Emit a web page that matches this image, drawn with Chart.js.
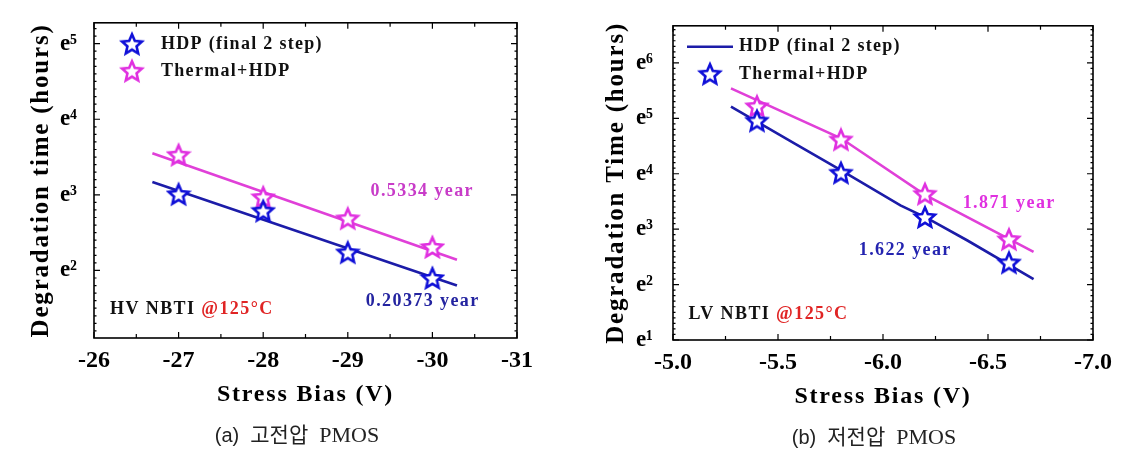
<!DOCTYPE html>
<html>
<head>
<meta charset="utf-8">
<script src="https://cdn.jsdelivr.net/npm/chart.js@4.4.0/dist/chart.umd.min.js"></script>
<style>
  body { margin: 0; background: #fff; width: 1141px; height: 451px; position: relative; overflow: hidden; }
  canvas { position: absolute; top: 0; }
  .cap { position: absolute; font-size: 22px; color: #222; white-space: pre; transform: translate(-50%, -50%);
         font-family: "Liberation Serif", "Noto Sans CJK KR"; }
  .cap .ko { font-family: "Noto Sans CJK KR"; font-size: 21px; }
  .cap .p { font-family: "Liberation Sans", sans-serif; font-size: 20px; }
</style>
</head>
<body>
<canvas id="hv" width="570" height="451" style="left:0"></canvas>
<canvas id="lv" width="571" height="451" style="left:570px"></canvas>
<div class="cap" style="left:297px;top:433px"><span class="p">(a)</span>  <span class="ko">고전압</span>  PMOS</div>
<div class="cap" style="left:874px;top:435px"><span class="p">(b)</span>  <span class="ko">저전압</span>  PMOS</div>
<script>
// ---- data (y values are exponents of e) ----
const hvBias = [-27, -28, -29, -30];
const hvHdp = [3.01, 2.79, 2.24, 1.90];
const hvThermal = [3.53, 2.97, 2.69, 2.31];
const hvFitBias = [-26.69, -30.29];
const hvHdpFit = [3.17, 1.80];
const hvThermalFit = [3.55, 2.14];
const hvExp = [2, 3, 4, 5];

const lvBias = [-5.4, -5.8, -6.2, -6.6];
const lvHdp = [4.96, 4.02, 3.22, 2.40];
const lvThermal = [5.22, 4.62, 3.64, 2.82];
const lvHdpFitBias = [-5.276, -5.582, -5.797, -6.083, -6.21, -6.40, -6.717];
const lvHdpFit = [5.21, 4.54, 4.07, 3.43, 3.20, 2.80, 2.10];
const lvThermalFitBias = [-5.276, -5.8, -6.2, -6.717];
const lvThermalFit = [5.54, 4.64, 3.62, 2.59];
const lvExp = [1, 2, 3, 4, 5, 6];

const BLUE = '#1010d8', NAVY = '#1c1ca8', MAG = '#e030e0', MAGLINE = '#e040d8';
const SERIF = '"Liberation Serif", "DejaVu Serif", serif';
const sup = { 1: '\u00b9', 2: '\u00b2', 3: '\u00b3', 4: '\u2074', 5: '\u2075', 6: '\u2076' };

const pts = (xs, ys) => xs.map((x, i) => ({ x, y: ys[i] }));

function starImage(color) {
  const c = document.createElement('canvas');
  c.width = 26; c.height = 26;
  const g = c.getContext('2d');
  g.translate(13, 14);
  g.beginPath();
  for (let i = 0; i < 10; i++) {
    const r = i % 2 ? 4.8 : 10.5;
    const a = -Math.PI / 2 + i * Math.PI / 5;
    g.lineTo(r * Math.cos(a), r * Math.sin(a));
  }
  g.closePath();
  g.fillStyle = '#fff'; g.fill();
  g.lineWidth = 2.6; g.strokeStyle = color; g.stroke();
  return c;
}
const blueStar = starImage(BLUE), magStar = starImage(MAG);

// the original figure sets its axis titles with wide letter spacing
const spacing = {
  id: 'spacing',
  afterLayout(chart) {
    Object.values(chart.scales).forEach(s => {
      if (s._spaced) return;
      const drawTitle = s.drawTitle.bind(s);
      s.drawTitle = function () {
        this.ctx.save();
        this.ctx.letterSpacing = '1.8px';
        drawTitle();
        this.ctx.restore();
      };
      s._spaced = true;
    });
  }
};

// border box with inward ticks on all four sides
const frame = {
  id: 'frame',
  afterDatasetsDraw(chart, args, opts) {
    const { ctx, chartArea: a } = chart;
    const xs = chart.scales.x, ys = chart.scales.y;
    ctx.save();
    ctx.strokeStyle = '#000';
    ctx.lineWidth = 1.2;
    const xStep = opts.xStep;
    for (let v = xs.min; v <= xs.max + 1e-9; v += xStep / 2) {
      const major = Math.abs(Math.round(v / xStep) * xStep - v) < 1e-6;
      const len = major ? 6 : 4, px = xs.getPixelForValue(v);
      ctx.beginPath();
      ctx.moveTo(px, a.bottom); ctx.lineTo(px, a.bottom - len);
      ctx.moveTo(px, a.top); ctx.lineTo(px, a.top + len);
      ctx.stroke();
    }
    for (let k = Math.ceil(ys.min * 10); k <= Math.floor(ys.max * 10); k++) {
      const major = k % 10 === 0;
      const len = major ? 6 : 2.5, py = ys.getPixelForValue(k / 10);
      ctx.beginPath();
      ctx.moveTo(a.left, py); ctx.lineTo(a.left + len, py);
      ctx.moveTo(a.right, py); ctx.lineTo(a.right - len, py);
      ctx.stroke();
    }
    ctx.lineWidth = 1.6;
    ctx.strokeRect(a.left, a.top, a.right - a.left, a.bottom - a.top);
    ctx.restore();
  }
};

// legend inside the plot and text notes placed in data units
const notes = {
  id: 'notes',
  afterDraw(chart, args, opts) {
    const { ctx, chartArea: a } = chart;
    ctx.save();
    ctx.textBaseline = 'middle';
    opts.legend.forEach(it => {
      const x = a.left + it.dx, y = a.top + it.dy;
      if (it.type === 'star') {
        ctx.drawImage(it.img, x - 13, y - 14);
      } else {
        ctx.strokeStyle = it.color; ctx.lineWidth = 2.6;
        ctx.beginPath(); ctx.moveTo(x - 23, y); ctx.lineTo(x + 23, y); ctx.stroke();
      }
      ctx.fillStyle = '#111';
      ctx.font = 'bold 18px ' + SERIF;
      ctx.letterSpacing = '1.3px';
      ctx.textAlign = 'left';
      ctx.fillText(it.text, a.left + it.tx, y);
    });
    ctx.letterSpacing = '1.4px';
    opts.labels.forEach(it => {
      let x = chart.scales.x.getPixelForValue(it.x);
      const y = chart.scales.y.getPixelForValue(it.y);
      ctx.font = 'bold 18px ' + SERIF;
      const total = it.parts.reduce((s, p) => s + ctx.measureText(p[0]).width, 0);
      if (it.align === 'center') x -= total / 2;
      ctx.textAlign = 'left';
      it.parts.forEach(p => {
        ctx.fillStyle = p[1];
        ctx.fillText(p[0], x, y);
        x += ctx.measureText(p[0]).width;
      });
    });
    ctx.restore();
  }
};

function makeChart(id, cfg) {
  return new Chart(document.getElementById(id), {
    type: 'scatter',
    data: { datasets: cfg.datasets },
    plugins: [spacing, frame, notes],
    options: {
      responsive: false,
      animation: false,
      events: [],
      layout: { padding: { top: cfg.top, right: cfg.right, left: 0, bottom: 0 } },
      plugins: {
        legend: { display: false },
        tooltip: { enabled: false },
        frame: { xStep: cfg.xStep },
        notes: { legend: cfg.legend, labels: cfg.labels }
      },
      scales: {
        x: {
          type: 'linear', min: cfg.xMin, max: cfg.xMax, reverse: true,
          grid: { display: false }, border: { display: false },
          afterFit: s => { s.height = cfg.xHeight; },
          ticks: {
            stepSize: cfg.xStep, padding: 0, color: '#000',
            font: { family: SERIF, size: 24, weight: 'bold' },
            callback: v => cfg.xFmt(v)
          },
          title: {
            display: true, text: 'Stress Bias (V)', color: '#000',
            font: { family: SERIF, size: 24, weight: 'bold' },
            padding: { top: 0, bottom: cfg.xTitlePad }
          }
        },
        y: {
          type: 'linear', min: cfg.yMin, max: cfg.yMax,
          grid: { display: false }, border: { display: false },
          afterFit: s => { s.width = cfg.yWidth; },
          afterBuildTicks: s => { s.ticks = cfg.yTicks.map(v => ({ value: v })); },
          ticks: {
            padding: cfg.yTickPad, color: '#000',
            font: { family: SERIF, size: 23, weight: 'bold' },
            callback: v => 'e' + (sup[v] || v)
          },
          title: {
            display: true, text: cfg.yTitle, color: '#000',
            font: { family: SERIF, size: 25, weight: 'bold' },
            padding: { top: cfg.yTitlePad, bottom: 0 }
          }
        }
      }
    }
  });
}

const starSet = (label, data, img) => ({
  label, data, showLine: false, pointStyle: img, pointRadius: 10, order: 0
});
const lineSet = (label, data, color) => ({
  label, data, showLine: true, borderColor: color, borderWidth: 2.6,
  pointRadius: 0, fill: false, tension: 0, order: 1
});

makeChart('hv', {
  datasets: [
    starSet('HDP (final 2 step)', pts(hvBias, hvHdp), blueStar),
    starSet('Thermal+HDP', pts(hvBias, hvThermal), magStar),
    lineSet('HDP fit', pts(hvFitBias, hvHdpFit), NAVY),
    lineSet('Thermal+HDP fit', pts(hvFitBias, hvThermalFit), MAGLINE)
  ],
  xMin: -31, xMax: -26, xStep: 1, xFmt: v => String(v),
  yMin: 1.106, yMax: 5.276, yTicks: hvExp,
  top: 12, right: 53, xHeight: 113, yWidth: 94,
  xTitlePad: 42, yTitlePad: 27, yTickPad: 9,
  yTitle: 'Degradation time (hours)',
  legend: [
    { type: 'star', img: blueStar, dx: 38, dy: 22, tx: 67, text: 'HDP (final 2 step)' },
    { type: 'star', img: magStar, dx: 38, dy: 49, tx: 67, text: 'Thermal+HDP' }
  ],
  labels: [
    { x: -29.88, y: 3.05, align: 'center', parts: [['0.5334 year', '#c83cc8']] },
    { x: -29.885, y: 1.595, align: 'center', parts: [['0.20373 year', '#2424a0']] },
    { x: -26.19, y: 1.49, align: 'left', parts: [['HV NBTI ', '#111'], ['@125\u00b0C', '#e02424']] }
  ]
});

makeChart('lv', {
  datasets: [
    starSet('Thermal+HDP', pts(lvBias, lvHdp), blueStar),
    starSet('Thermal+HDP (2)', pts(lvBias, lvThermal), magStar),
    lineSet('HDP (final 2 step)', pts(lvHdpFitBias, lvHdpFit), NAVY),
    lineSet('Thermal+HDP fit', pts(lvThermalFitBias, lvThermalFit), MAGLINE)
  ],
  xMin: -7, xMax: -5, xStep: 0.5, xFmt: v => v.toFixed(1),
  yMin: 1, yMax: 6.67, yTicks: lvExp,
  top: 14, right: 48, xHeight: 111, yWidth: 103,
  xTitlePad: 40, yTitlePad: 32, yTickPad: 12,
  yTitle: 'Degradation Time (hours)',
  legend: [
    { type: 'line', color: NAVY, dx: 37, dy: 21, tx: 66, text: 'HDP (final 2 step)' },
    { type: 'star', img: blueStar, dx: 37, dy: 49, tx: 66, text: 'Thermal+HDP' }
  ],
  labels: [
    { x: -6.601, y: 3.464, align: 'center', parts: [['1.871 year', '#e030e0']] },
    { x: -6.106, y: 2.623, align: 'center', parts: [['1.622 year', '#2424b0']] },
    { x: -5.074, y: 1.464, align: 'left', parts: [['LV NBTI ', '#111'], ['@125\u00b0C', '#e02424']] }
  ]
});
</script>
</body>
</html>
